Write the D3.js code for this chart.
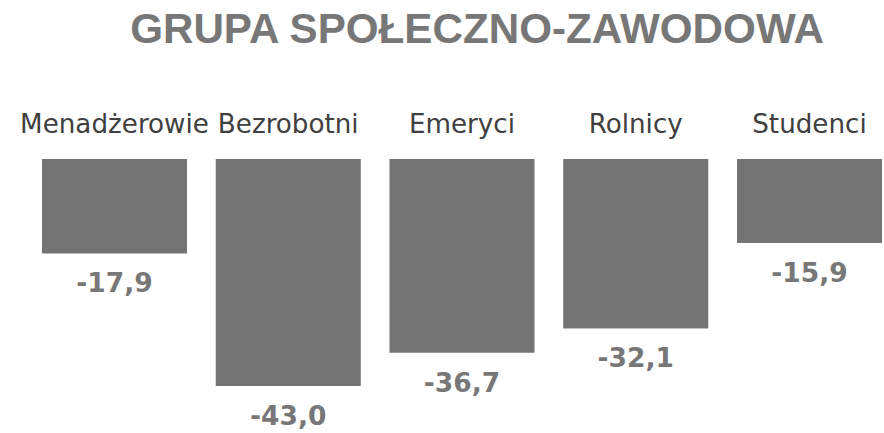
<!DOCTYPE html>
<html>
<head>
<meta charset="utf-8">
<script src="https://cdn.jsdelivr.net/npm/d3@7"></script>
<style>
  body { margin: 0; background: #fff; }
</style>
</head>
<body>
<svg id="chart"></svg>
<script>
var categories = ["Menadżerowie", "Bezrobotni", "Emeryci", "Rolnicy", "Studenci"]
var values = [-17.9, -43.0, -36.7, -32.1, -15.9]
var title = "GRUPA SPOŁECZNO-ZAWODOWA"

var width = 884, height = 433
var svg = d3.select("#chart")
    .attr("width", width)
    .attr("height", height)

var x = d3.scaleBand()
          .domain(categories)
          .range([27.6, 896.4])
          .paddingInner(0.1655)
          .paddingOuter(0.0828)
var y = d3.scaleLinear()
          .domain([0, -43])
          .range([159, 386])

svg.append("text")
   .attr("x", 477)
   .attr("y", 43)
   .attr("font-family", "'Liberation Sans', Arial, sans-serif")
   .attr("font-weight", "bold")
   .attr("font-size", "42.2px")
   .attr("fill", "#777777")
   .style("text-anchor", "middle")
   .text(title)

var data = categories.map((c, i) => ({cat: c, value: values[i]}))

svg.selectAll(".cat")
   .data(data)
   .enter()
   .append("text")
   .classed("cat", true)
   .attr("x", d => x(d.cat) + x.bandwidth() / 2)
   .attr("y", 133)
   .attr("font-family", "'DejaVu Sans', Verdana, sans-serif")
   .attr("font-size", "26.2px")
   .attr("fill", "#404040")
   .style("text-anchor", "middle")
   .text(d => d.cat)

svg.selectAll(".bar")
   .data(data)
   .enter()
   .append("rect")
   .classed("bar", true)
   .attr("x", d => x(d.cat))
   .attr("y", y(0))
   .attr("width", x.bandwidth())
   .attr("height", d => y(d.value) - y(0))
   .attr("fill", "#737373")

svg.selectAll(".val")
   .data(data)
   .enter()
   .append("text")
   .classed("val", true)
   .attr("x", d => x(d.cat) + x.bandwidth() / 2)
   .attr("y", d => y(d.value) + 39)
   .attr("font-family", "'DejaVu Sans', Verdana, sans-serif")
   .attr("font-weight", "bold")
   .attr("font-size", "26.5px")
   .attr("fill", "#777777")
   .style("text-anchor", "middle")
   .text(d => d3.format(".1f")(d.value).replace(".", ",").replace("−", "-"))
</script>
</body>
</html>
